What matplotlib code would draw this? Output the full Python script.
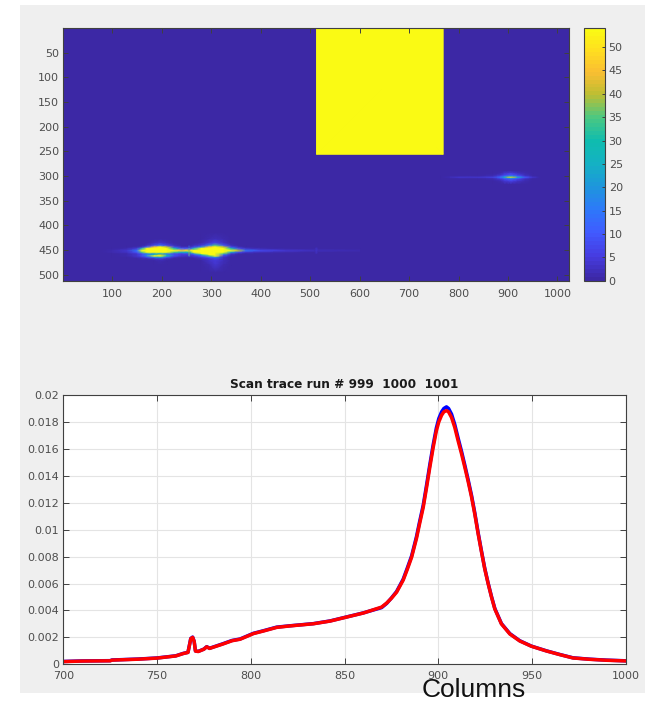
import matplotlib
matplotlib.use("Agg")
import matplotlib.pyplot as plt
import numpy as np
from matplotlib.colors import LinearSegmentedColormap, Normalize
from matplotlib.patches import Rectangle

W, H = 648, 703
DARK = "#404040"
TXT = "#4d4d4d"

# ---------- heat map data ----------
BG = 0.4
VMAX = 54
block_cols = [513, 769]
block_rows = [1, 256]
block_vals = [[54, 54], [54, 54]]

a_cols = [60, 75, 100, 130, 150, 160, 170, 185, 197, 210, 225, 240, 255, 265, 280, 295, 308, 325, 340, 355, 370, 400, 450, 510, 600]
a_rows = [415, 428, 436, 441, 444, 447, 451, 455, 458, 460, 462, 465, 468, 472, 480, 495]
a_vals = [
    [.4, .4, .4, .4, .4, .4, .4, .4, .4, .4, .4, .4, .4, .4, .4, .4, .8, .4, .4, .4, .4, .4, .4, .4, .4],
    [.4, .4, .4, .4, .4, .4, .4, .4, .6, .4, .4, .4, .4, .4, .4, 1.5, 2.5, 1, .4, .4, .4, .4, .4, .4, .4],
    [.4, .4, .4, .4, .4, .4, .6, 2, 4, 2, .6, .4, .4, .4, 1, 4, 7, 3, .6, .4, .4, .4, .4, .4, .4],
    [.4, .4, .4, .4, .5, .8, 2, 8, 14, 7, 2, .6, .5, 2, 5, 15, 35, 10, 2, .6, .4, .4, .4, .4, .4],
    [.4, .4, .4, .6, 1, 3, 12, 45, 54, 40, 8, 2, 2, 6, 18, 45, 54, 40, 8, 2, .8, .5, .4, .4, .4],
    [.4, .4, .6, 1, 5, 25, 54, 54, 54, 54, 30, 10, 10, 25, 54, 54, 54, 54, 30, 8, 3, 1.5, .8, .5, .4],
    [.4, .6, 1.5, 4, 15, 54, 54, 54, 54, 54, 54, 45, 50, 54, 54, 54, 54, 54, 54, 40, 15, 7, 4, 2.5, 1],
    [.4, .5, 1.2, 3, 10, 35, 54, 54, 54, 54, 35, 25, 28, 54, 54, 54, 54, 54, 25, 8, 4, 2, 1.2, .8, .5],
    [.4, .4, .6, 1.5, 5, 10, 18, 22, 25, 18, 8, 6, 8, 20, 54, 54, 54, 35, 5, 1.5, .7, .5, .4, .4, .4],
    [.4, .4, .5, 1.2, 4, 8, 15, 30, 40, 20, 8, 5, 5, 10, 30, 54, 54, 15, 2, .6, .4, .4, .4, .4, .4],
    [.4, .4, .5, 1.2, 4, 9, 20, 54, 54, 30, 8, 4, 3, 5, 12, 35, 54, 6, 1, .4, .4, .4, .4, .4, .4],
    [.4, .4, .4, .7, 2, 4, 8, 18, 25, 10, 3, 1, 1, 2, 5, 10, 20, 3, .6, .4, .4, .4, .4, .4, .4],
    [.4, .4, .4, .4, .6, .9, 1.5, 3, 5, 2, .7, .4, .4, .6, 2, 4, 7, 2, .4, .4, .4, .4, .4, .4, .4],
    [.4, .4, .4, .4, .4, .4, .5, .7, 1, .6, .4, .4, .4, .4, .8, 3, 5, 2, .4, .4, .4, .4, .4, .4, .4],
    [.4, .4, .4, .4, .4, .4, .4, .4, .4, .4, .4, .4, .4, .4, .5, 1.5, 3.5, 1.5, .4, .4, .4, .4, .4, .4, .4],
    [.4, .4, .4, .4, .4, .4, .4, .4, .4, .4, .4, .4, .4, .4, .4, .4, .5, .4, .4, .4, .4, .4, .4, .4, .4],
]

b_cols = [765, 800, 840, 870, 885, 893, 900, 905, 912, 920, 935, 950, 965]
b_rows = [290, 295, 299, 301, 303, 305, 307, 311, 316]
b_vals = [
    [.4, .4, .4, .4, .4, .4, .4, .4, .4, .4, .4, .4, .4],
    [.4, .4, .4, .5, 1.5, 3.5, 5, 6, 5, 3, 1, .4, .4],
    [.4, .4, .5, .9, 3.5, 7, 9, 10, 9, 6, 2.5, .5, .4],
    [.4, 1, 1.5, 2.5, 8, 14, 20, 24, 20, 12, 5, 1.2, .4],
    [.4, 3.5, 4, 6, 14, 28, 42, 48, 42, 25, 10, 4, .4],
    [.4, 1, 1.5, 2.5, 8, 14, 20, 24, 20, 12, 5, 1.2, .4],
    [.4, .4, .5, .9, 3.5, 7, 9, 10, 9, 6, 2.5, .5, .4],
    [.4, .4, .4, .5, 1.5, 3.5, 5, 6, 5, 3, 1, .4, .4],
    [.4, .4, .4, .4, .4, .4, .4, .4, .4, .4, .4, .4, .4],
]

seam_cols = [254, 255.5, 257]
seam_rows = [441, 447, 451, 455, 462]
seam_vals = [[.5, 1.5, .5], [10, 18, 10], [50, 38, 50], [28, 38, 28], [3, 8, 3]]
spot_cols = [510, 512.5, 515]
spot_rows = [445, 451, 457]
spot_vals = [[.4, 1.5, .4], [2, 4, 2], [.4, 1.5, .4]]

colorbar_ticks = [0, 5, 10, 15, 20, 25, 30, 35, 40, 45, 50]
img_xticks = [100, 200, 300, 400, 500, 600, 700, 800, 900, 1000]
img_yticks = [50, 100, 150, 200, 250, 300, 350, 400, 450, 500]

# ---------- scan trace data ----------
trace_x = [700, 710, 725, 726, 740, 750, 760, 764, 766.5, 767.2, 768, 769, 769.8, 770.5, 772, 775, 776.5, 778,
           785, 790, 794.3, 801.4, 806.7, 813.8, 820.9, 833.4, 842.3, 851.2, 860.1, 869.8, 872.5, 875, 877.8,
           881.3, 883.5, 885.8, 888.4, 890, 892, 893.8, 895.5, 897.3, 899, 900.3, 901.8, 903, 904.4, 905.5,
           907.1, 908.8, 910.6, 912.4, 914.2, 916, 917.8, 919.5, 921.3, 923, 924.8, 926.6,
           928.4, 930.2, 933.7, 938.2, 943.5, 949.7, 957.7, 964.8, 971.9, 980.8, 989.7, 1000]
red_y = [.00020, .00024, .00026, .00031, .00038, .00046, .00062, .00080, .00088, .00135, .00190, .00200, .00170, .00098,
         .00095, .00112, .00130, .00118, .00150, .00175, .00186, .00228, .00247, .00274, .00285, .00301,
         .00321, .00351, .00381, .00425, .00455, .00490, .00536,
         .00625, .00705, .00795, .00935, .01040, .01166, .01315, .01462, .01610, .01734, .01800, .01850, .01875, .01884, .01875,
         .01833, .01760, .01660, .01565, .01462, .01355, .01240, .01115, .00968, .00840, .00709, .00600,
         .00500, .00410, .00300, .00225, .00173, .00134, .00099, .00072, .00047, .00037, .00030, .00025]
blue_y = [.00021, .00025, .00027, .00032, .00039, .00047, .00063, .00081, .00089, .00136, .00192, .00202, .00171, .00099,
          .00096, .00113, .00131, .00119, .00152, .00177, .00188, .00230, .00249, .00276, .00286, .00302,
          .00322, .00352, .00382, .00421, .00452, .00492, .00541,
          .00632, .00715, .00805, .00948, .01055, .01182, .01333, .01482, .01630, .01755, .01825, .01875, .01900, .01912, .01900,
          .01858, .01782, .01680, .01583, .01478, .01368, .01252, .01125, .00976, .00846, .00714, .00604,
          .00504, .00414, .00303, .00228, .00175, .00135, .00100, .00073, .00048, .00038, .00031, .00026]
trace_xticks = [700, 750, 800, 850, 900, 950, 1000]
trace_yticks = [0, .002, .004, .006, .008, .01, .012, .014, .016, .018, .02]
trace_ylabels = ["0", "0.002", "0.004", "0.006", "0.008", "0.01", "0.012", "0.014", "0.016", "0.018", "0.02"]

cmap_stops = [(0, (60, 40, 165)), (5 / 54, (70, 60, 225)), (10 / 54, (65, 90, 255)), (15 / 54, (45, 120, 250)),
              (20 / 54, (30, 150, 220)), (25 / 54, (20, 178, 195)), (30 / 54, (15, 188, 175)),
              (35 / 54, (75, 200, 130)), (40 / 54, (190, 190, 50)), (45 / 54, (250, 190, 50)),
              (50 / 54, (255, 225, 30)), (1, (250, 250, 20))]
parula = LinearSegmentedColormap.from_list(
    "parula_like", [(p, tuple(c / 255 for c in rgb)) for p, rgb in cmap_stops], N=64)


def box(l, t, r, b):
    return [l / W, 1 - b / H, (r - l) / W, (b - t) / H]


fig = plt.figure(figsize=(W / 100, H / 100), dpi=100, facecolor="white")
fig.add_artist(Rectangle((20 / W, 1 - 693 / H), 625 / W, 688 / H, transform=fig.transFigure,
                         facecolor="#efefef", edgecolor="none", zorder=-5))

norm = Normalize(0, VMAX)
ax1 = fig.add_axes(box(63.3, 28.3, 569.3, 280.8))
ax1.set_facecolor(parula(norm(BG)))
for cols, rows, vals in [(block_cols, block_rows, block_vals), (a_cols, a_rows, a_vals),
                         (b_cols, b_rows, b_vals), (seam_cols, seam_rows, seam_vals),
                         (spot_cols, spot_rows, spot_vals)]:
    ax1.pcolormesh(cols, rows, np.array(vals), cmap=parula, norm=norm, shading="gouraud")
ax1.set_xlim(1, 1024)
ax1.set_ylim(512, 1)
ax1.set_xticks(img_xticks)
ax1.set_yticks(img_yticks)
ax1.tick_params(direction="in", length=3.5, width=0.7, top=True, right=True, labelsize=8,
                color=DARK, labelcolor=TXT, pad=3)
ax1.tick_params(axis="x", pad=6)
for s in ax1.spines.values():
    s.set_color(DARK)
    s.set_linewidth(0.8)

cax = fig.add_axes(box(583.5, 28.3, 604.5, 280.8))
cb = fig.colorbar(plt.cm.ScalarMappable(norm=norm, cmap=parula), cax=cax)
cb.set_ticks(colorbar_ticks)
cax.tick_params(direction="in", length=2.5, width=0.7, labelsize=8, color=DARK, labelcolor=TXT, pad=3)
cb.outline.set_edgecolor(DARK)
cb.outline.set_linewidth(0.8)

ax2 = fig.add_axes(box(63.3, 395, 625.7, 664.3))
ax2.set_facecolor("white")
ax2.plot(trace_x, blue_y, color="#0000ff", lw=2.5, solid_joinstyle="round")
ax2.plot(trace_x, red_y, color="#ff0000", lw=2.5, solid_joinstyle="round")
ax2.set_xlim(700, 1000)
ax2.set_ylim(0, 0.02)
ax2.set_xticks(trace_xticks)
ax2.set_xticklabels([str(v) for v in trace_xticks])
ax2.set_yticks(trace_yticks)
ax2.set_yticklabels(trace_ylabels)
ax2.grid(True, color="#e4e4e4", lw=0.8)
ax2.set_axisbelow(True)
ax2.tick_params(direction="in", length=4, width=0.7, top=True, right=True, labelsize=8,
                color=DARK, labelcolor=TXT, pad=3)
ax2.tick_params(axis="x", pad=4.5)
for s in ax2.spines.values():
    s.set_color(DARK)
    s.set_linewidth(0.8)
fig.text(344.5 / W, 1 - 384.5 / H, "Scan trace run # 999  1000  1001", fontsize=8.7, fontweight="bold",
         color="#1a1a1a", ha="center", va="center")
fig.text(473.5 / W, 1 - 690 / H, "Columns", fontsize=19, family="Liberation Sans", color="#111111",
         ha="center", va="center")

fig.savefig("out.png", dpi=100, facecolor="white")
